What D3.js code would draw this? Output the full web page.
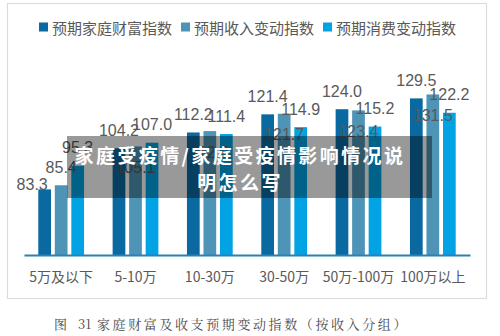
<!DOCTYPE html>
<html>
<head>
<meta charset="utf-8">
<script src="https://cdn.jsdelivr.net/npm/d3@7"></script>
<style>
  html, body { margin: 0; padding: 0; background: #fff; }
  svg { display: block; }
</style>
</head>
<body>
<svg id="chart" width="500" height="336"></svg>
<script>
// ---- data ----
const categories = ["5万及以下", "5-10万", "10-30万", "30-50万", "50万-100万", "100万以上"];
const seriesNames = ["预期家庭财富指数", "预期收入变动指数", "预期消费变动指数"];
const wealthIndex = [83.3, 104.2, 112.2, 121.4, 124.0, 129.5];
const incomeIndex = [85.4, 105.1, 112.9, 121.7, 123.4, 131.5];
const consumeIndex = [95.3, 107.0, 111.4, 114.9, 115.2, 122.2];
const yDomain = [50, 150];
const overlayLines = ["家庭受疫情/家庭受疫情影响情况说", "明怎么写"];
const captionParts = ["图", "31", "家庭财富及收支预期变动指数（按收入分组）"];

const seriesValues = [wealthIndex, incomeIndex, consumeIndex];
const colors = ["#0b69a1", "#4e94b6", "#02a3e4"];
const textColor = "#595959";

const svg = d3.select("#chart");

// frame
svg.append("rect")
  .attr("x", 7.5).attr("y", 3.5).attr("width", 479).attr("height", 295)
  .attr("fill", "#fff").attr("stroke", "#dcdcdc").attr("stroke-width", 1.2);

// scales
const x = d3.scaleBand().domain(categories).range([24, 470]).paddingInner(0).paddingOuter(0);
const xInner = d3.scaleBand().domain(d3.range(seriesNames.length))
  .range([-x.bandwidth() / 3 , x.bandwidth() / 3]).paddingInner(0.23).paddingOuter(0.115);
const y = d3.scaleLinear().domain(yDomain).range([255, 58]);

// legend
const legend = svg.append("g").attr("class", "legend");
let lx = 39;
seriesNames.forEach((name, i) => {
  legend.append("rect").attr("x", lx).attr("y", 22.5).attr("width", 9).attr("height", 9)
    .attr("fill", colors[i]);
  const t = legend.append("text").attr("x", lx + 13).attr("y", 27)
    .attr("dominant-baseline", "central")
    .attr("font-family", "'Noto Sans CJK SC', sans-serif")
    .attr("font-size", 15).attr("fill", textColor).text(name);
  lx = lx + 13 + t.node().getComputedTextLength() + 9;
});

// bars
const flat = [];
categories.forEach((c, gi) => {
  seriesValues.forEach((vals, si) => {
    flat.push({ cat: c, gi, si, value: vals[gi] });
  });
});

svg.append("g").selectAll("rect").data(flat).enter().append("rect")
  .attr("x", d => x(d.cat) + x.bandwidth() / 2 + xInner(d.si))
  .attr("y", d => y(d.value))
  .attr("width", xInner.bandwidth())
  .attr("height", d => y(yDomain[0]) - y(d.value))
  .attr("fill", d => colors[d.si]);

// axis line
const xAxis = d3.axisBottom(x).tickSize(0).tickPadding(17);
const axisG = svg.append("g").attr("transform", `translate(0,${y(yDomain[0])})`).call(xAxis);
axisG.select(".domain").attr("stroke", "#2b80b8").attr("stroke-width", 2.2);
axisG.selectAll("text")
  .attr("font-family", "'Noto Sans CJK SC', sans-serif")
  .attr("font-size", 14).attr("fill", textColor);

// value labels
const labelG = svg.append("g");
const labels = flat.map(d => {
  const cx = x(d.cat) + x.bandwidth() / 2 + xInner(d.si) + xInner.bandwidth() / 2;
  const top = y(d.value);
  const inside = d.si === 1 && d.gi > 0;
  return { ...d, cx, cy: inside ? top + 21 : top - 18, top };
});
// simple collision avoidance within a group: shift a label left & down to its bar top
labels.forEach((l, idx) => {
  const next = labels[idx + 1];
  if (next && next.gi === l.gi && next.cy < l.cy + 12 && next.cy > l.cy - 12) {
    const w = 32;
    const overlap = (l.cx + w / 2) - (next.cx - w / 2);
    if (overlap > 0) {
      l.cx -= overlap - 3;
      l.cy = l.top - 5;
    }
  }
});
labelG.selectAll("text").data(labels).enter().append("text")
  .attr("x", d => d.cx).attr("y", d => d.cy)
  .attr("text-anchor", "middle").attr("dominant-baseline", "central")
  .attr("font-family", "'Liberation Sans', Arial, sans-serif")
  .attr("font-size", 16).attr("fill", textColor)
  .text(d => d3.format(".1f")(d.value));

// overlay watermark box
svg.append("rect").attr("x", 67).attr("y", 136).attr("width", 365).attr("height", 62)
  .attr("fill", "#000").attr("fill-opacity", 0.4);
overlayLines.forEach((line, i) => {
  svg.append("text").attr("x", 240).attr("y", 154 + i * 27)
    .attr("text-anchor", "middle").attr("dominant-baseline", "central")
    .attr("font-family", "'Noto Sans CJK SC', sans-serif")
    .attr("font-weight", "bold").attr("font-size", 19)
    .attr("letter-spacing", 2.4).attr("fill", "#fff").text(line);
});

// caption
const cap = svg.append("text").attr("y", 323).attr("dominant-baseline", "central")
  .attr("font-family", "'Noto Serif CJK SC', 'Noto Sans CJK SC', serif")
  .attr("font-size", 13).attr("fill", "#4a4a4a");
cap.append("tspan").attr("x", 54).text(captionParts[0]);
cap.append("tspan").attr("x", 78).text(captionParts[1]);
cap.append("tspan").attr("x", 97).attr("letter-spacing", 2.6).text(captionParts[2]);
</script>
</body>
</html>
